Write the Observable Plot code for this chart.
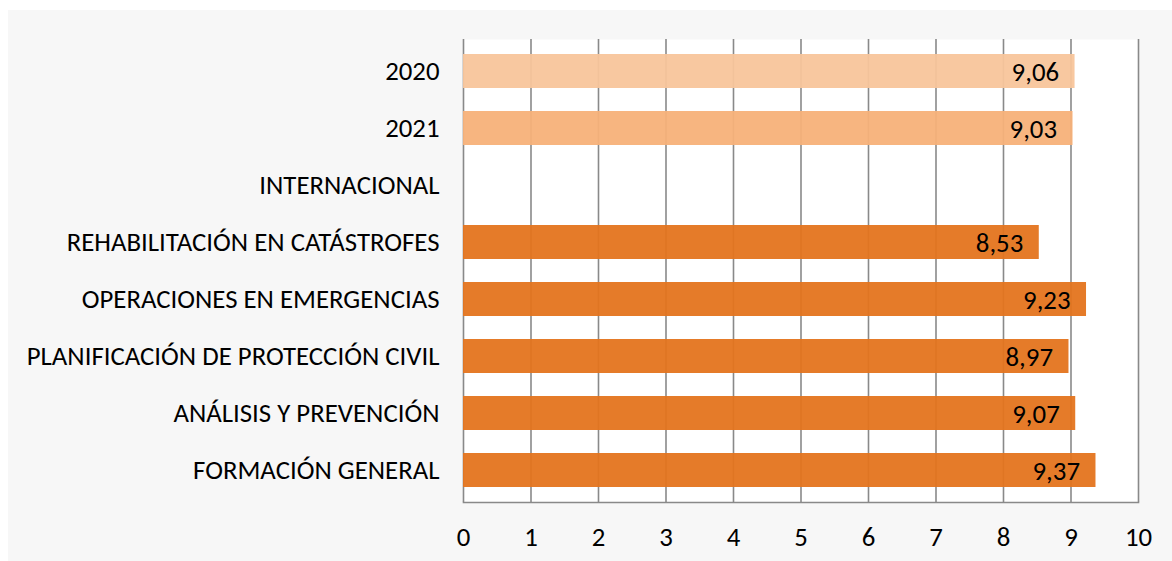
<!DOCTYPE html>
<html>
<head>
<meta charset="utf-8">
<script src="https://cdn.jsdelivr.net/npm/d3@7"></script>
<script src="https://cdn.jsdelivr.net/npm/@observablehq/plot@0.6"></script>
<style>
  html, body { margin: 0; padding: 0; background: #ffffff; }
  #chart { position: absolute; left: 8px; top: 10px; }
  #chart svg { background: #f7f7f7; display: block; }
</style>
</head>
<body>
<div id="chart"></div>
<script>
const categories = [
  "2020",
  "2021",
  "INTERNACIONAL",
  "REHABILITACIÓN EN CATÁSTROFES",
  "OPERACIONES EN EMERGENCIAS",
  "PLANIFICACIÓN DE PROTECCIÓN CIVIL",
  "ANÁLISIS Y PREVENCIÓN",
  "FORMACIÓN GENERAL"
];
const values = [9.06, 9.03, null, 8.53, 9.23, 8.97, 9.07, 9.37];
const groups = ["2020", "2021", "area", "area", "area", "area", "area", "area"];
const xTicks = [0, 1, 2, 3, 4, 5, 6, 7, 8, 9, 10];

const data = categories.map((c, i) => ({cat: c, value: values[i], group: groups[i]}));
const bars = data.filter(d => d.value != null);
const fmt = v => v.toFixed(2).replace(".", ",");

const FS = 26.8;
const chart = Plot.plot({
  width: 1164,
  height: 551,
  marginLeft: 455,
  marginRight: 34,
  marginTop: 29,
  marginBottom: 59,
  style: {fontFamily: "Carlito, Lato, sans-serif", fontSize: FS + "px", color: "#000", background: "#f7f7f7"},
  x: {domain: [0, 10], ticks: xTicks, label: null},
  y: {domain: categories, label: null, paddingInner: 0.41, paddingOuter: 0.205},
  color: {domain: ["2020", "2021", "area"], range: ["#f8c59b", "#f7b179", "#e4741d"]},
  marks: [
    Plot.frame({fill: "white", stroke: null}),
    Plot.ruleX(xTicks, {stroke: "#898989", strokeWidth: 1.6}),
    Plot.frame({anchor: "bottom", stroke: "#898989", strokeWidth: 1.6}),
    Plot.barX(bars, {x: "value", y: "cat", fill: "group", fillOpacity: 0.95}),
    Plot.text(bars, {x: "value", y: "cat", text: d => fmt(d.value), textAnchor: "end", dx: -16, dy: 1, fill: "#000", fontSize: FS}),
    Plot.axisX({ticks: xTicks, tickSize: 0, tickPadding: 24, tickFormat: d => String(d), fontSize: FS, fill: "#000"}),
    Plot.axisY({tickSize: 0, tickPadding: 24, fontSize: FS, fill: "#000"})
  ]
});
document.getElementById("chart").appendChild(chart);
</script>
</body>
</html>
